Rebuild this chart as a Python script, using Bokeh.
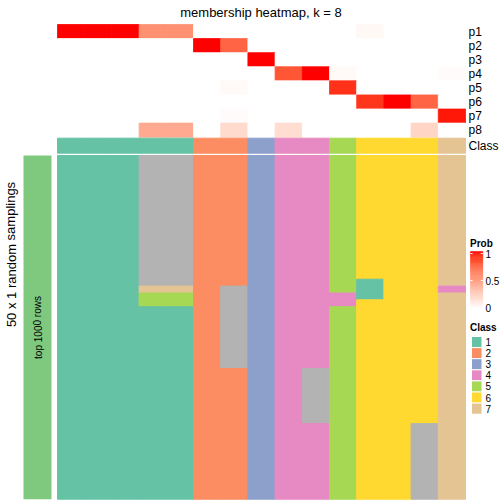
from bokeh.plotting import figure
from bokeh.models import Range1d, ColumnDataSource, LinearColorMapper
from bokeh.core.properties import value
from bokeh.embed import file_html
from bokeh.resources import INLINE

# ---------------- data ----------------
row_names = ["p1", "p2", "p3", "p4", "p5", "p6", "p7", "p8"]
col_classes = [1, 1, 1, 1, 1, 2, 2, 3, 4, 4, 5, 6, 6, 6, 7]
p1 = [1, 1, 1, 0.56, 0.56, 0, 0, 0, 0, 0, 0, 0.04, 0, 0, 0]
p2 = [0, 0, 0, 0, 0, 1, 0.76, 0, 0, 0, 0, 0, 0, 0, 0]
p3 = [0, 0, 0, 0, 0, 0, 0, 1, 0, 0, 0, 0, 0, 0, 0]
p4 = [0, 0, 0, 0, 0, 0, 0, 0, 0.82, 1, 0.03, 0, 0, 0, 0.02]
p5 = [0, 0, 0, 0, 0, 0, 0.03, 0, 0, 0, 0.93, 0, 0, 0, 0]
p6 = [0, 0, 0, 0, 0, 0, 0, 0, 0, 0, 0, 0.92, 1, 0.76, 0]
p7 = [0, 0, 0, 0, 0, 0, 0.02, 0, 0, 0, 0, 0, 0, 0, 0.98]
p8 = [0, 0, 0, 0.44, 0.44, 0, 0.19, 0, 0.18, 0, 0, 0, 0, 0.22, 0]
prob_rows = [p1, p2, p3, p4, p5, p6, p7, p8]

# sampling heatmap: per column, runs of (class, number of rows), 0 = NA
sampling_runs = [
    [(1, 50)],
    [(1, 50)],
    [(1, 50)],
    [(0, 19), (7, 1), (5, 2), (1, 28)],
    [(0, 19), (7, 1), (5, 2), (1, 28)],
    [(2, 50)],
    [(2, 19), (0, 12), (2, 19)],
    [(3, 50)],
    [(4, 50)],
    [(4, 31), (0, 8), (4, 11)],
    [(5, 20), (4, 2), (5, 28)],
    [(6, 18), (1, 3), (6, 29)],
    [(6, 50)],
    [(6, 39), (0, 11)],
    [(7, 19), (4, 1), (7, 30)],
]
n_samplings = 50
class_labels = ["1", "2", "3", "4", "5", "6", "7"]
legend_ticks = [1, 0.5, 0]
legend_tick_labels = ["1", "0.5", "0"]

# ---------------- styles ----------------
CLASS_COLORS = {1: "#66C2A5", 2: "#FC8D62", 3: "#8DA0CB", 4: "#E78AC3",
                5: "#A6D854", 6: "#FFD92F", 7: "#E5C494", 0: "#B3B3B3"}
ROWBAR_COLOR = "#7FC97F"
FONT = value("Liberation Sans")


def lab_to_hex(L, a, b):
    fy = (L + 16) / 116
    fx = fy + a / 500
    fz = fy - b / 200

    def finv(t):
        return t ** 3 if t ** 3 > 0.008856 else (t - 16 / 116) / 7.787
    X, Y, Z = 0.95047 * finv(fx), finv(fy), 1.08883 * finv(fz)
    r = 3.2406 * X - 1.5372 * Y - 0.4986 * Z
    g = -0.9689 * X + 1.8758 * Y + 0.0415 * Z
    bb = 0.0557 * X - 0.2040 * Y + 1.0570 * Z

    def gam(c):
        c = max(0.0, min(1.0, c))
        c = 12.92 * c if c <= 0.0031308 else 1.055 * c ** (1 / 2.4) - 0.055
        return int(round(max(0, min(1, c)) * 255))
    return "#%02x%02x%02x" % (gam(r), gam(g), gam(bb))


W_LAB = (100.0, 0.0, 0.0)
R_LAB = (53.24, 80.09, 67.20)
palette = [lab_to_hex(*[w + (r - w) * i / 255 for w, r in zip(W_LAB, R_LAB)]) for i in range(256)]
mapper = LinearColorMapper(palette=palette, low=0, high=1)

# ---------------- layout (page pixels) ----------------
X0, X1 = 57.0, 465.0          # heatmap columns
ncol = len(col_classes)
CW = (X1 - X0) / ncol
TOP0 = 24.0
RH = (136.7 - TOP0) / len(row_names)
CLS_TOP, CLS_H = 137.7, 15.0
BOT_TOP, BOT_END = 155.0, 498.7
PAGE_L, PAGE_R, PAGE_T, PAGE_B = 0.0, 504.0, 0.0, 504.0
BH = (BOT_END - BOT_TOP) / n_samplings

p = figure(width=504, height=504, output_backend="svg", toolbar_location=None,
           x_range=Range1d(PAGE_L, PAGE_R), y_range=Range1d(PAGE_B, PAGE_T),
           min_border=0, min_border_left=0, min_border_right=0,
           min_border_top=0, min_border_bottom=0)
p.axis.visible = False
p.grid.visible = False
p.outline_line_color = None
p.background_fill_color = "white"
p.border_fill_color = "white"

p.extra_x_ranges = {"cols": Range1d((PAGE_L - X0) / CW, (PAGE_R - X0) / CW)}
p.extra_y_ranges = {
    "prob": Range1d((PAGE_B - TOP0) / RH, (PAGE_T - TOP0) / RH),
    "cls": Range1d((PAGE_B - CLS_TOP) / CLS_H, (PAGE_T - CLS_TOP) / CLS_H),
    "bot": Range1d((PAGE_B - BOT_TOP) / BH, (PAGE_T - BOT_TOP) / BH),
}

# probability heatmap
xs, ys, vs = [], [], []
for ri, row in enumerate(prob_rows):
    for ci, v in enumerate(row):
        xs.append(ci + 0.5)
        ys.append(ri + 0.5)
        vs.append(v)
src = ColumnDataSource(dict(x=xs, y=ys, v=vs))
p.rect(x="x", y="y", width=1, height=1, source=src,
       fill_color={"field": "v", "transform": mapper},
       line_color={"field": "v", "transform": mapper}, line_width=0.8,
       x_range_name="cols", y_range_name="prob")

# class annotation row
csrc = ColumnDataSource(dict(x=[i + 0.5 for i in range(ncol)], y=[0.5] * ncol,
                             c=[CLASS_COLORS[k] for k in col_classes]))
p.rect(x="x", y="y", width=1, height=1, source=csrc, fill_color="c", line_color="c",
       line_width=1, x_range_name="cols", y_range_name="cls")

# sampling heatmap
L, R, T, B, C = [], [], [], [], []
for ci, runs in enumerate(sampling_runs):
    start = 0
    for cls, n in runs:
        L.append(ci)
        R.append(ci + 1)
        T.append(start)
        B.append(start + n)
        C.append(CLASS_COLORS[cls])
        start += n
bsrc = ColumnDataSource(dict(left=L, right=R, top=T, bottom=B, c=C))
p.quad(left="left", right="right", top="top", bottom="bottom", source=bsrc,
       fill_color="c", line_color="c", line_width=1,
       x_range_name="cols", y_range_name="bot")

# left row-annotation bar
p.quad(left=[23], right=[51], top=[0], bottom=[n_samplings], fill_color=ROWBAR_COLOR,
       line_color=None, y_range_name="bot")

# texts
p.text(x=[260.5], y=[11.5], text=["membership heatmap, k = 8"], text_font=FONT,
       text_font_size="13px", text_align="center", text_baseline="middle", text_color="black")
p.text(x=[10.5], y=[254], text=["50 x 1 random samplings"], text_font=FONT,
       text_font_size="13px", text_align="center", text_baseline="middle", angle=1.5708,
       text_color="black")
p.text(x=[37.5], y=[327], text=["top 1000 rows"], text_font=FONT,
       text_font_size="10px", text_align="center", text_baseline="middle", angle=1.5708,
       text_color="black")
p.text(x=[468] * len(row_names), y=[i + 0.5 for i in range(len(row_names))], text=row_names,
       text_font=FONT, text_font_size="12px", text_align="left", text_baseline="middle",
       text_color="black", y_range_name="prob")
p.text(x=[468], y=[0.5], text=["Class"], text_font=FONT, text_font_size="12px",
       text_align="left", text_baseline="middle", text_color="black", y_range_name="cls")

# Prob legend
LG_X0, LG_X1 = 470.0, 482.3
CB_TOP, CB_BOT = 251.0, 308.0
p.text(x=[469.5], y=[243], text=["Prob"], text_font=FONT, text_font_size="10px",
       text_font_style="bold", text_align="left", text_baseline="middle", text_color="black")
nstep = 60
gv = [i / (nstep - 1) for i in range(nstep)]
step_h = (CB_BOT - CB_TOP) / nstep
gsrc = ColumnDataSource(dict(
    top=[CB_BOT - (i + 1) * step_h for i in range(nstep)],
    bottom=[CB_BOT - i * step_h for i in range(nstep)],
    v=gv))
p.quad(left=LG_X0, right=LG_X1, top="top", bottom="bottom", source=gsrc,
       fill_color={"field": "v", "transform": mapper},
       line_color={"field": "v", "transform": mapper}, line_width=0.5)
tick_y = [CB_BOT - 1 - (CB_BOT - CB_TOP - 3) * t for t in legend_ticks]
for ty, t in zip(tick_y, legend_ticks):
    if t > 0:
        p.segment(x0=[LG_X0], y0=[ty], x1=[LG_X0 + 2], y1=[ty], line_color="white", line_width=1)
        p.segment(x0=[LG_X1 - 2], y0=[ty], x1=[LG_X1], y1=[ty], line_color="white", line_width=1)
p.text(x=[485] * len(legend_ticks), y=tick_y, text=legend_tick_labels, text_font=FONT,
       text_font_size="10px", text_align="left", text_baseline="middle", text_color="black")

# Class legend
p.text(x=[469.5], y=[327], text=["Class"], text_font=FONT, text_font_size="10px",
       text_font_style="bold", text_align="left", text_baseline="middle", text_color="black")
SW_TOP, SW_STEP = 336.0, 11.1
sw_y = [SW_TOP + SW_STEP * i for i in range(len(class_labels))]
p.quad(left=471, right=481.5, top=sw_y, bottom=[y + SW_STEP for y in sw_y],
       fill_color=[CLASS_COLORS[int(k)] for k in class_labels], line_color="white", line_width=1)
p.text(x=[485] * len(class_labels), y=[y + SW_STEP / 2 for y in sw_y], text=class_labels,
       text_font=FONT, text_font_size="10px", text_align="left", text_baseline="middle",
       text_color="black")

open("out.html", "w").write(file_html(p, INLINE))
